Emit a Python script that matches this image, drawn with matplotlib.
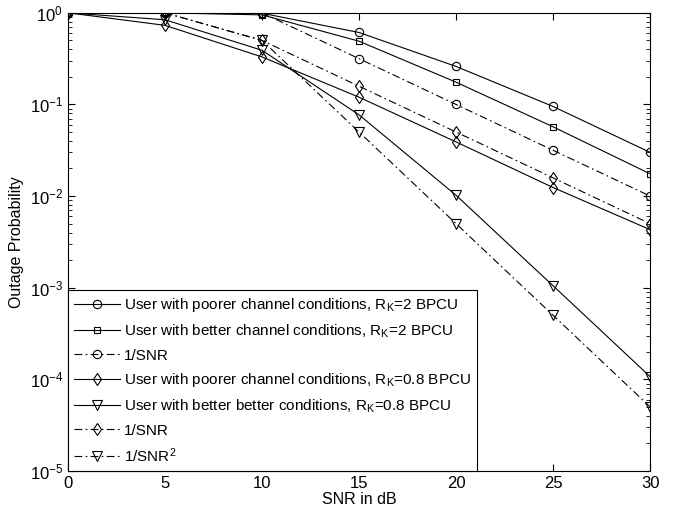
import numpy as np
import matplotlib
matplotlib.use("Agg")
import matplotlib.pyplot as plt
from matplotlib.ticker import LogLocator, NullFormatter

plt.rcParams['font.family'] = ['Liberation Sans', 'DejaVu Sans']
plt.rcParams['mathtext.default'] = 'regular'

snr_db = [0, 5, 10, 15, 20, 25, 30]

# R_K = 2 BPCU
poor_r2 = [1.0, 1.0, 0.99, 0.61, 0.26, 0.095, 0.030]
better_r2 = [1.0, 1.0, 0.95, 0.49, 0.175, 0.057, 0.0175]
inv_snr_a = [1.0, 1.0, 1.0, 0.316, 0.1, 0.0316, 0.01]

# R_K = 0.8 BPCU
poor_r08 = [1.0, 0.73, 0.33, 0.12, 0.039, 0.0124, 0.0043]
better_r08 = [1.0, 0.84, 0.39, 0.077, 0.0102, 0.00105, 0.000107]
inv_snr_b = [1.0, 1.0, 0.5, 0.158, 0.05, 0.0158, 0.005]
inv_snr2 = [1.0, 1.0, 0.5, 0.05, 0.005, 0.0005, 0.00005]

labels = [
    "User with poorer channel conditions, R$_K$=2 BPCU",
    "User with better channel conditions, R$_K$=2 BPCU",
    "1/SNR",
    "User with poorer channel conditions, R$_K$=0.8 BPCU",
    "User with better better conditions, R$_K$=0.8 BPCU",
    "1/SNR",
    "1/SNR$^2$",
]

dashdot = (0, (7, 3, 1.5, 3))
series = [
    (poor_r2, 'o', '-', 6),
    (better_r2, 's', '-', 5),
    (inv_snr_a, 'o', dashdot, 6),
    (poor_r08, 'd', '-', 6.5),
    (better_r08, 'v', '-', 6.5),
    (inv_snr_b, 'd', dashdot, 6.5),
    (inv_snr2, 'v', dashdot, 6.5),
]

fig = plt.figure(figsize=(6.8, 5.13), dpi=100)
ax = fig.add_axes([0.1, 0.082, 0.856, 0.893])

for (vals, mk, ls, ms), lab in zip(series, labels):
    ax.semilogy(snr_db, vals, color='black', linestyle=ls, linewidth=0.8,
                marker=mk, markersize=ms, markerfacecolor='none',
                markeredgecolor='black', markeredgewidth=0.8, label=lab)

ax.set_xlim(0, 30)
ax.set_ylim(1e-5, 1)
ax.set_xticks(snr_db)
ax.yaxis.set_major_locator(LogLocator(base=10, numticks=10))
ax.yaxis.set_minor_locator(LogLocator(base=10, subs=np.arange(2, 10), numticks=10))
ax.yaxis.set_minor_formatter(NullFormatter())
ax.tick_params(which='both', direction='in', top=True, right=True, labelsize=12)
ax.tick_params(which='major', length=5)
ax.tick_params(which='minor', length=3)

ax.set_xlabel("SNR in dB", fontsize=11.5, labelpad=1)
ax.set_ylabel("Outage Probability", fontsize=11.5)

leg = ax.legend(loc='lower left', bbox_to_anchor=(0, 0), borderaxespad=0,
                fontsize=11, handlelength=3.0, handletextpad=0.25,
                labelspacing=0.56, borderpad=0.4,
                fancybox=False, framealpha=1, edgecolor='black')
leg.get_frame().set_linewidth(0.8)

fig.savefig("out.png", dpi=100)
